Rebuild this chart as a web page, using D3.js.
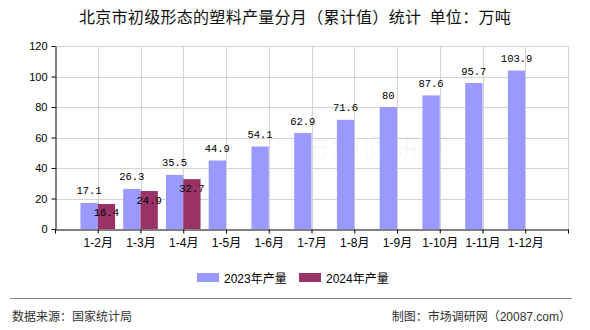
<!DOCTYPE html>
<html>
<head>
<meta charset="utf-8">
<script src="https://cdn.jsdelivr.net/npm/d3@7/dist/d3.min.js"></script>
<style>
  html, body { margin: 0; padding: 0; background: #fff; }
  svg { display: block; }
</style>
</head>
<body>
<svg id="chart" width="590" height="330"></svg>
<script>
// Monthly cumulative output, 10k tonnes
const categories = ["1-2月", "1-3月", "1-4月", "1-5月", "1-6月", "1-7月", "1-8月", "1-9月", "1-10月", "1-11月", "1-12月"];
const values2023 = [17.1, 26.3, 35.5, 44.9, 54.1, 62.9, 71.6, 80, 87.6, 95.7, 103.9];
const values2024 = [16.4, 24.9, 32.7];
const yTicks = [0, 20, 40, 60, 80, 100, 120];
const seriesNames = ["2023年产量", "2024年产量"];
const colors = ["#9999FF", "#993366"];

const cjk = '"Liberation Sans", "Noto Sans CJK SC", sans-serif';
const mono = '"Liberation Mono", "DejaVu Sans Mono", monospace';

const svg = d3.select("#chart");
const plot = { left: 55, right: 568, top: 46, bottom: 229 };

// category i sits at position i+1; the axis spans one extra step on each side
const x = d3.scaleLinear().domain([0, categories.length + 1]).range([plot.left, plot.right]);
const y = d3.scaleLinear().domain([0, 120]).range([plot.bottom, plot.top]);
const step = x(1) - x(0);
const barW = step * 0.405;

// title
svg.append("text")
  .attr("x", 295).attr("y", 23)
  .attr("text-anchor", "middle")
  .style("font-family", cjk).style("font-size", "16px").style("letter-spacing", "0.3px")
  .attr("fill", "#111")
  .text("北京市初级形态的塑料产量分月（累计值）统计\u2002单位：万吨");

// grid
const grid = svg.append("g").attr("stroke", "#d4d4d4").attr("stroke-width", 1);
grid.selectAll("line.h").data(yTicks.filter(d => d > 0)).join("line")
  .attr("x1", plot.left).attr("x2", plot.right)
  .attr("y1", d => Math.round(y(d)) + 0.5).attr("y2", d => Math.round(y(d)) + 0.5);
grid.selectAll("line.v").data(d3.range(1, categories.length + 2)).join("line")
  .attr("x1", d => Math.round(x(d)) + 0.5).attr("x2", d => Math.round(x(d)) + 0.5)
  .attr("y1", plot.top).attr("y2", plot.bottom);

// faint site watermark
svg.append("text")
  .attr("x", 375).attr("y", 160).attr("text-anchor", "middle")
  .style("font-family", cjk).style("font-size", "30px")
  .attr("fill", "#000").attr("fill-opacity", 0.03)
  .text("市场调研网");

// bars
const bars = svg.append("g");
bars.selectAll("rect.s23").data(values2023).join("rect")
  .attr("x", (d, i) => x(i + 1) - barW).attr("width", barW)
  .attr("y", d => y(d)).attr("height", d => y(0) - y(d))
  .attr("fill", colors[0]);
bars.selectAll("rect.s24").data(values2024).join("rect")
  .attr("x", (d, i) => x(i + 1)).attr("width", barW)
  .attr("y", d => y(d)).attr("height", d => y(0) - y(d))
  .attr("fill", colors[1]);

// value labels
const labels = svg.append("g")
  .style("font-family", mono).style("font-size", "10.5px").attr("fill", "#000")
  .attr("text-anchor", "middle");
labels.selectAll("text.s23").data(values2023).join("text")
  .attr("x", (d, i) => x(i + 1) - barW / 2)
  .attr("y", d => y(d) - 8.5)
  .text(d => d);
labels.selectAll("text.s24").data(values2024).join("text")
  .attr("x", (d, i) => x(i + 1) + barW / 2)
  .attr("y", d => y(d) + 12.5)
  .text(d => d);

// axes
const xAxis = d3.axisBottom(x)
  .tickValues(d3.range(0, categories.length + 2))
  .tickFormat(i => categories[i - 1] || "")
  .tickSize(4).tickSizeOuter(0);
const gx = svg.append("g").attr("transform", `translate(0,${plot.bottom + 0.5})`).call(xAxis);
gx.select(".domain").attr("stroke", "#000");
gx.selectAll(".tick line").attr("stroke", "#000");
gx.selectAll("text").style("font-family", cjk).style("font-size", "12px").attr("fill", "#000").attr("dy", "0.9em");

const yAxis = d3.axisLeft(y).tickValues(yTicks).tickSize(4).tickSizeOuter(0);
const gy = svg.append("g").attr("transform", `translate(${plot.left + 0.5},0)`).call(yAxis);
gy.select(".domain").attr("stroke", "#000");
gy.selectAll(".tick line").attr("stroke", "#000");
gy.selectAll("text").style("font-family", cjk).style("font-size", "11px").attr("fill", "#000").attr("x", -8);

// legend
const legendX = [197, 299];
const lg = svg.append("g");
seriesNames.forEach((name, i) => {
  lg.append("rect").attr("x", legendX[i]).attr("y", 273).attr("width", 22).attr("height", 9).attr("fill", colors[i]);
  lg.append("text").attr("x", legendX[i] + 27).attr("y", 282.5)
    .style("font-family", cjk).style("font-size", "12px").attr("fill", "#000")
    .text(name);
});

// footer
svg.append("line").attr("x1", 10).attr("x2", 572).attr("y1", 298.5).attr("y2", 298.5)
  .attr("stroke", "#8a8a8a").attr("stroke-width", 1);
svg.append("text").attr("x", 12).attr("y", 320.5)
  .style("font-family", cjk).style("font-size", "12px").attr("fill", "#333")
  .text("数据来源：国家统计局");
svg.append("text").attr("x", 571).attr("y", 320.5).attr("text-anchor", "end")
  .style("font-family", cjk).style("font-size", "12px").attr("fill", "#333")
  .text("制图：市场调研网（20087.com）");
</script>
</body>
</html>
